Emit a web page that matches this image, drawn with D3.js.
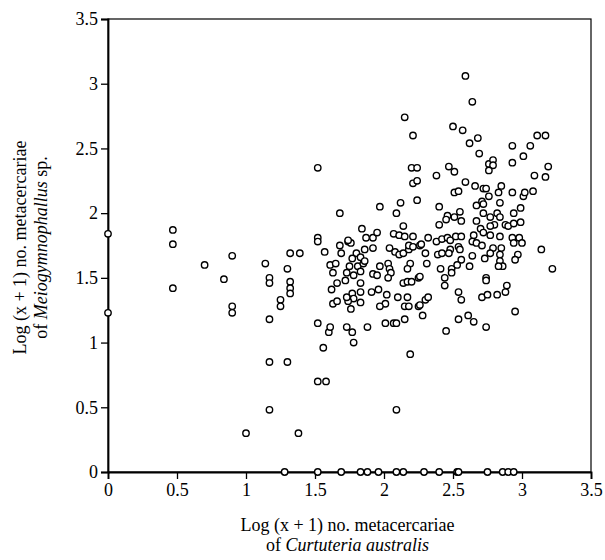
<!DOCTYPE html>
<html>
<head>
<meta charset="utf-8">
<script src="https://cdn.jsdelivr.net/npm/d3@7"></script>
<style>
  body { margin: 0; background: #fff; }
  svg text { font-family: "Liberation Serif", "Times New Roman", serif; fill: #000; }
  .tick text { font-size: 18px; }
</style>
</head>
<body>
<div id="graph"></div>
<script>
// log(x+1) Curtuteria australis (x) vs log(x+1) Meiogymnophallus sp. (y)
const xTicks = [0, 0.5, 1, 1.5, 2, 2.5, 3, 3.5]
const yTicks = [0, 0.5, 1, 1.5, 2, 2.5, 3, 3.5]

// left part, x < 1.1
const ptsLeft = [
  [0, 1.84], [0, 1.23], [0.47, 1.87], [0.47, 1.76], [0.47, 1.42], [0.70, 1.60],
  [0.84, 1.49], [0.90, 1.67], [0.90, 1.28], [0.90, 1.23], [1.00, 0.30]
]

// 1.1 - 1.7
const ptsMidLeft = [
  [1.14, 1.61], [1.17, 1.50], [1.17, 1.46], [1.17, 1.18], [1.17, 0.85], [1.17, 0.48],
  [1.25, 1.33], [1.25, 1.28], [1.30, 1.57], [1.30, 0.85],
  [1.32, 1.69], [1.32, 1.47], [1.32, 1.42], [1.32, 1.38], [1.38, 0.30], [1.39, 1.69],
  [1.52, 2.35], [1.52, 1.81], [1.52, 1.78], [1.52, 1.15], [1.52, 0.70],
  [1.56, 0.96], [1.57, 1.70], [1.58, 0.70], [1.60, 1.08], [1.61, 1.60], [1.62, 1.41], [1.61, 1.12],
  [1.63, 1.54], [1.63, 1.30], [1.65, 1.61], [1.66, 1.46], [1.66, 1.32],
  [1.68, 2.00], [1.68, 1.75], [1.69, 1.69]
]

// 1.7 - 2.35
const ptsMid = [
  [1.74, 1.78], [1.76, 1.77], [1.80, 1.69], [1.77, 1.65],
  [1.84, 1.88], [2.14, 1.90], [1.87, 1.81], [1.92, 1.81], [1.95, 1.85],
  [2.07, 1.84], [2.11, 1.83], [2.15, 1.82], [2.21, 1.82], [2.32, 1.81], [1.74, 1.79],
  [1.92, 1.73], [1.86, 1.72], [2.04, 1.73], [2.08, 1.70], [2.11, 1.68], [2.14, 1.69],
  [2.18, 1.72], [2.18, 1.75], [2.21, 1.74], [2.26, 1.75], [1.83, 1.66],
  [1.75, 1.59], [1.81, 1.59], [1.85, 1.61], [1.86, 1.63], [1.83, 1.55], [1.73, 1.54], [1.78, 1.52],
  [1.92, 1.53], [1.95, 1.52], [1.97, 1.59], [2.03, 1.61], [2.04, 1.57], [2.05, 1.54], [2.03, 1.50],
  [2.19, 1.61], [2.17, 1.57], [1.72, 1.48],
  [1.83, 1.46], [1.83, 1.39], [1.77, 1.38], [1.78, 1.34], [1.74, 1.32], [1.73, 1.35], [1.76, 1.26], [1.83, 1.31],
  [1.91, 1.39], [1.96, 1.41], [2.02, 1.37], [2.01, 1.30], [1.97, 1.28],
  [2.14, 1.46], [2.17, 1.47], [2.20, 1.47], [2.25, 1.50],
  [2.10, 1.35], [2.17, 1.35], [2.15, 1.28], [2.18, 1.28], [2.25, 1.28], [2.28, 1.21],
  [1.73, 1.12], [1.77, 1.08], [1.78, 1.00], [1.88, 1.12],
  [2.01, 1.15], [2.07, 1.15], [2.09, 1.15], [2.15, 1.18], [2.19, 0.91], [2.09, 0.48],
  [2.27, 1.76], [2.30, 1.69], [2.31, 1.61], [2.30, 1.33], [2.32, 1.35]
]

// upper middle
const ptsUpper = [
  [2.15, 2.74], [2.21, 2.60], [2.50, 2.67], [2.57, 2.64],
  [2.20, 2.35], [2.24, 2.35], [2.21, 2.23], [2.24, 2.25],
  [2.47, 2.36], [2.51, 2.32], [2.38, 2.29], [2.24, 2.10], [2.51, 2.16], [2.54, 2.17],
  [2.12, 2.08], [1.97, 2.05], [2.09, 2.00], [2.40, 2.05],
  [2.46, 1.98], [2.45, 1.95], [2.51, 1.97], [2.55, 2.01], [2.56, 1.94], [2.40, 1.91],
  [2.38, 1.78], [2.42, 1.80], [2.46, 1.81], [2.48, 1.79], [2.52, 1.82], [2.56, 1.82]
]

// right part, x > 2.35
const ptsRight = [
  [2.59, 3.06], [2.64, 2.86], [2.62, 2.54], [2.68, 2.58], [2.69, 2.46],
  [2.93, 2.52], [3.06, 2.52], [3.11, 2.60], [3.17, 2.60], [3.01, 2.44], [2.93, 2.39],
  [2.76, 2.38], [2.79, 2.41], [2.79, 2.37], [2.76, 2.33],
  [3.19, 2.36], [3.17, 2.28], [3.09, 2.29], [2.59, 2.24],
  [2.66, 2.21], [2.72, 2.19], [2.74, 2.19],
  [2.85, 2.21], [2.83, 2.16], [2.93, 2.16], [3.01, 2.13], [3.02, 2.16], [3.08, 2.17],
  [2.76, 2.13], [2.71, 2.09], [2.67, 2.06], [2.72, 2.07], [2.84, 2.08], [2.99, 2.04],
  [2.72, 2.00], [2.77, 1.97], [2.82, 2.00], [2.84, 1.97], [2.80, 1.91], [2.77, 1.90],
  [2.88, 1.91], [2.90, 1.90], [2.94, 1.92], [2.94, 2.00], [2.99, 1.93],
  [2.67, 1.94], [2.70, 1.88], [2.72, 1.85], [2.77, 1.83], [2.84, 1.82],
  [2.65, 1.83], [2.64, 1.78], [2.67, 1.77], [2.71, 1.75],
  [2.93, 1.81], [2.98, 1.81], [2.94, 1.77], [3.00, 1.77],
  [2.48, 1.72], [2.39, 1.68], [2.42, 1.69], [2.47, 1.69], [2.54, 1.74], [2.55, 1.72],
  [2.79, 1.73], [2.85, 1.73], [2.77, 1.69], [2.84, 1.68], [2.73, 1.65], [2.64, 1.67],
  [3.14, 1.72], [2.97, 1.68], [2.95, 1.64],
  [2.56, 1.64], [2.53, 1.60], [2.49, 1.57], [2.49, 1.54], [2.41, 1.57], [2.62, 1.59],
  [2.84, 1.63], [2.86, 1.59], [2.83, 1.59], [2.74, 1.50], [3.22, 1.57], [2.26, 1.51],
  [2.44, 1.50], [2.44, 1.44], [2.54, 1.39], [2.56, 1.33], [2.71, 1.35], [2.75, 1.37],
  [2.82, 1.37], [2.88, 1.39], [2.89, 1.44], [2.74, 1.48], [2.26, 1.29],
  [2.95, 1.24], [2.54, 1.18], [2.61, 1.21], [2.65, 1.16], [2.74, 1.12], [2.45, 1.09]
]

// points sitting on y = 0
const ptsZero = [1.28, 1.52, 1.69, 1.83, 1.88, 1.96, 2.09, 2.14, 2.29, 2.40, 2.53, 2.54, 2.75, 2.86, 2.90, 2.94]

const allPts = ptsLeft.concat(ptsMidLeft, ptsMid, ptsUpper, ptsRight, ptsZero.map(v => [v, 0]))

let margin = { top: 19, right: 14, bottom: 88, left: 108 },
    width = 605 - margin.left - margin.right,
    height = 560 - margin.top - margin.bottom;

let svg = d3.select("#graph")
    .append("svg")
    .attr("width", 605)
    .attr("height", 560)
    .append("g")
    .attr("transform", "translate(" + margin.left + "," + margin.top + ")");

let x = d3.scaleLinear().domain([0, 3.5]).range([0, width]);
let y = d3.scaleLinear().domain([0, 3.5]).range([height, 0]);

// frame (top and right)
svg.append("rect")
    .attr("width", width).attr("height", height)
    .attr("fill", "none").attr("stroke", "#000").attr("stroke-width", 1.2);

let xAxis = svg.append("g")
    .attr("transform", "translate(0," + height + ")")
    .call(d3.axisBottom(x).tickValues(xTicks).tickFormat(d3.format("")).tickSize(7).tickPadding(4));
let yAxis = svg.append("g")
    .call(d3.axisLeft(y).tickValues(yTicks).tickFormat(d3.format("")).tickSize(7).tickPadding(3));

[xAxis, yAxis].forEach(a => {
  a.select(".domain").attr("stroke-width", 1.8)
  a.selectAll(".tick line").attr("stroke-width", 1.3)
})

// dots
svg.append("g")
    .selectAll("circle")
    .data(allPts)
    .enter()
    .append("circle")
    .attr("cx", d => x(d[0]))
    .attr("cy", d => y(d[1]))
    .attr("r", 3.2)
    .attr("fill", "#fff")
    .attr("stroke", "#000")
    .attr("stroke-width", 1.4)

// axis titles
let xt = svg.append("text")
    .attr("text-anchor", "middle")
    .style("font-size", "18px")
    .attr("x", width / 2 - 2)
    .attr("y", height + 59);
xt.append("tspan").text("Log (x + 1) no. metacercariae");
xt.append("tspan").attr("x", width / 2 - 2).attr("dy", 20).text("of ")
  .append("tspan").style("font-style", "italic").text("Curtuteria australis");

let yt = svg.append("text")
    .attr("text-anchor", "middle")
    .style("font-size", "18px")
    .attr("transform", "translate(-82," + (height / 2 + 2) + ") rotate(-90)");
yt.append("tspan").attr("x", 0).text("Log (x + 1) no. metacercariae");
yt.append("tspan").attr("x", 0).attr("dy", 21).text("of ")
  .append("tspan").style("font-style", "italic").text("Meiogymnophallus");
yt.append("tspan").text(" sp.");
</script>
</body>
</html>
